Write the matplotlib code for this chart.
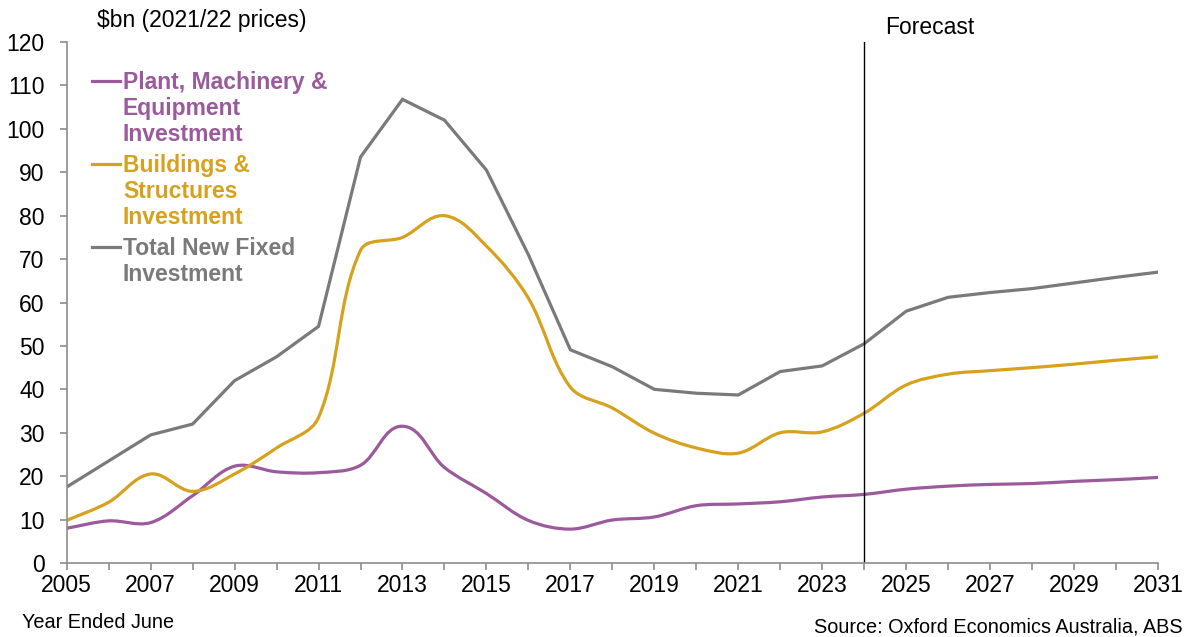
import numpy as np
import matplotlib
matplotlib.use('Agg')
import matplotlib.pyplot as plt
from matplotlib.path import Path
from matplotlib.patches import PathPatch
from matplotlib.lines import Line2D

plt.rcParams['font.family'] = ['Liberation Sans', 'DejaVu Sans']

years = list(range(2005, 2032))
plant = [8.0, 9.7, 9.3, 15.5, 22.3, 21.0, 20.8, 22.5, 31.5, 22.0, 16.0, 9.8, 7.8, 9.9,
         10.6, 13.2, 13.6, 14.1, 15.2, 15.8, 17.0, 17.7, 18.1, 18.3, 18.8, 19.2, 19.7]
buildings = [9.8, 14.0, 20.5, 16.5, 20.5, 26.5, 33.5, 72.0, 75.0, 80.0, 73.0, 61.0, 40.5, 35.7,
             29.9, 26.5, 25.3, 30.0, 30.2, 34.5, 41.0, 43.5, 44.3, 45.0, 45.8, 46.7, 47.5]
total = [17.5, 23.5, 29.5, 32.0, 42.0, 47.5, 54.5, 93.5, 106.8, 102.0, 90.5, 71.0, 49.1, 45.2,
         40.0, 39.1, 38.7, 44.1, 45.4, 50.5, 58.0, 61.2, 62.3, 63.2, 64.5, 65.8, 67.0]
labels = [['Plant, Machinery &', 'Equipment', 'Investment'],
          ['Buildings &', 'Structures', 'Investment'],
          ['Total New Fixed', 'Investment']]
c_plant = '#9b5a9b'
c_build = '#d6a21e'
c_total = '#7a7a7a'
forecast_year = 2024
LW = 2.3


def smooth_path(x, y, sx=42.0, sy=4.342):
    # excel-ish smoothed line, control points sized in screen space
    X = np.asarray(x, float) * sx
    Y = np.asarray(y, float) * sy
    P = np.column_stack([X, Y])
    n = len(P)
    verts = [P[0]]
    codes = [Path.MOVETO]
    for i in range(n - 1):
        p0 = P[max(i - 1, 0)]
        p1 = P[i]
        p2 = P[i + 1]
        p3 = P[min(i + 2, n - 1)]
        seg = np.hypot(*(p2 - p1)) / 3.0
        d1 = p2 - p0
        d1 = d1 / np.hypot(*d1)
        d2 = p3 - p1
        d2 = d2 / np.hypot(*d2)
        verts += [p1 + d1 * seg, p2 - d2 * seg, p2]
        codes += [Path.CURVE4] * 3
    verts = np.array(verts)
    verts[:, 0] /= sx
    verts[:, 1] /= sy
    return Path(verts, codes)


fig = plt.figure(figsize=(11.91, 6.37), dpi=100)
ax = fig.add_axes([0.056, 0.1162, 0.9163, 0.8178])

ax.add_patch(PathPatch(smooth_path(years, plant), fill=False, edgecolor=c_plant, lw=LW,
                       capstyle='round', joinstyle='round'))
ax.add_patch(PathPatch(smooth_path(years, buildings), fill=False, edgecolor=c_build, lw=LW,
                       capstyle='round', joinstyle='round'))
ax.plot(years, total, color=c_total, lw=LW, solid_joinstyle='miter')
ax.plot([forecast_year, forecast_year], [0, 120], color='black', lw=1)

ax.set_xlim(2005, 2031)
ax.set_ylim(0, 120)
ax.set_yticks(range(0, 121, 10))
ax.set_xticks(range(2005, 2032), minor=True)
ax.set_xticks(range(2005, 2032, 2))
for s in ['top', 'right']:
    ax.spines[s].set_visible(False)
for s in ['left', 'bottom']:
    ax.spines[s].set_color('#8c8c8c')
    ax.spines[s].set_linewidth(1.2)
ax.tick_params(axis='both', which='both', color='#8c8c8c', width=1.2, length=5,
               labelsize=16.5, direction='out')
ax.tick_params(axis='x', pad=3)
ax.tick_params(axis='y', pad=11)

# legend, drawn by hand so the key sits on the first line of each label
W, H = 1191.0, 637.0
first_rows = [81, 164, 247]
for rows, c, y0 in zip(labels, (c_plant, c_build, c_total), first_rows):
    fig.add_artist(Line2D([92 / W, 120 / W], [1 - y0 / H, 1 - y0 / H], color=c, lw=LW))
    for k, line in enumerate(rows):
        yb = y0 + k * 25.8 + 8
        fig.text(123 / W, 1 - yb / H, line, color=c, fontsize=16.5, fontweight='bold',
                 ha='left', va='baseline')

fig.text(202 / W, 1 - 20 / H, '\\$bn (2021/22 prices)', fontsize=16.5, ha='center', va='center')
fig.text(885 / W, 1 - 27 / H, 'Forecast', fontsize=16.5, ha='left', va='center')
fig.text(22 / W, 1 - 622 / H, 'Year Ended June', fontsize=14.3, ha='left', va='center')
fig.text(1183 / W, 1 - 627 / H, 'Source: Oxford Economics Australia, ABS', fontsize=14.3,
         ha='right', va='center')

fig.savefig('out.png', dpi=100)
